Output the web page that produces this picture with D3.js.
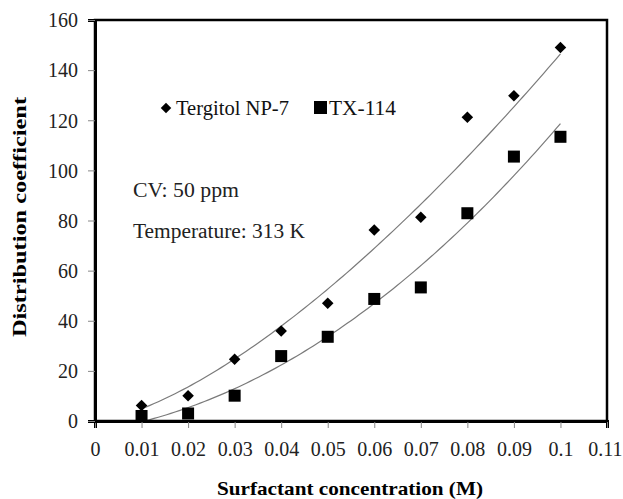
<!DOCTYPE html>
<html><head><meta charset="utf-8">
<script src="https://cdn.jsdelivr.net/npm/d3@7"></script>
<style>body{margin:0;background:#fff}svg{display:block}</style>
</head><body>
<script>
const xVals = [0.01,0.02,0.03,0.04,0.05,0.06,0.07,0.08,0.09,0.1];
const tergitol = [6.2,10.1,24.6,35.9,47,76.2,81.3,121.2,129.8,149];
const tx114 = [2,3,10.1,25.9,33.6,48.7,53.3,82.9,105.5,113.4];
const xTicks = [0,0.01,0.02,0.03,0.04,0.05,0.06,0.07,0.08,0.09,0.1,0.11];
const yTicks = [0,20,40,60,80,100,120,140,160];
const seriesNames = ["Tergitol NP-7","TX-114"];
const notes = ["CV: 50 ppm","Temperature: 313 K"];

const W=623,H=499;
const L=95,R=607,T=20,B=421;
const svg=d3.select("body").append("svg").attr("width",W).attr("height",H);
const x=d3.scaleLinear().domain([0,0.11]).range([L,R]);
const y=d3.scaleLinear().domain([0,160]).range([B,T]);
const font="Liberation Serif, Times New Roman, serif";

// quadratic least squares fit
function polyfit2(xs,ys){
  const n=xs.length;
  const S=k=>d3.sum(xs,v=>Math.pow(v,k));
  const Sy=k=>d3.sum(xs.map((v,i)=>Math.pow(v,k)*ys[i]));
  const A=[[n,S(1),S(2)],[S(1),S(2),S(3)],[S(2),S(3),S(4)]];
  const b=[Sy(0),Sy(1),Sy(2)];
  for(let i=0;i<3;i++){
    for(let j=i+1;j<3;j++){
      const f=A[j][i]/A[i][i];
      for(let k=i;k<3;k++)A[j][k]-=f*A[i][k];
      b[j]-=f*b[i];
    }
  }
  const c=[0,0,0];
  for(let i=2;i>=0;i--){
    let s=b[i];for(let k=i+1;k<3;k++)s-=A[i][k]*c[k];c[i]=s/A[i][i];
  }
  return v=>c[0]+c[1]*v+c[2]*v*v;
}
// power fit y = a x^b (log-log least squares)
function powerfit(xs,ys){
  const lx=xs.map(Math.log),ly=ys.map(Math.log);
  const mx=d3.mean(lx),my=d3.mean(ly);
  const bb=d3.sum(lx.map((v,i)=>(v-mx)*(ly[i]-my)))/d3.sum(lx.map(v=>(v-mx)*(v-mx)));
  const la=my-bb*mx;
  return v=>Math.exp(la)*Math.pow(v,bb);
}

svg.append("clipPath").attr("id","clip").append("rect")
  .attr("x",L).attr("y",T).attr("width",R-L).attr("height",B-T);

// trendlines
[[tergitol,powerfit],[tx114,polyfit2]].forEach(([ys,fit])=>{
  const f=fit(xVals,ys);
  const x0=d3.min(xVals),x1=d3.max(xVals);
  const pts=d3.range(0,101).map(i=>{const v=x0+i*(x1-x0)/100;return [v,f(v)];});
  svg.append("path").attr("clip-path","url(#clip)")
    .attr("d",d3.line().x(d=>x(d[0])).y(d=>y(d[1]))(pts))
    .attr("fill","none").attr("stroke","#7a7a7a").attr("stroke-width",1.2);
});

// frame
svg.append("rect").attr("x",L).attr("y",T).attr("width",R-L).attr("height",B-T)
  .attr("fill","none").attr("stroke","#000").attr("stroke-width",2.5);

// axes
const xAxis=svg.append("g").attr("transform",`translate(0,${B})`)
  .call(d3.axisBottom(x).tickValues(xTicks).tickSize(7).tickPadding(14).tickFormat(d=>String(+d.toFixed(2))));
const yAxis=svg.append("g").attr("transform",`translate(${L},0)`)
  .call(d3.axisLeft(y).tickValues(yTicks).tickSize(7).tickPadding(10));
[xAxis,yAxis].forEach(g=>{
  g.select(".domain").attr("stroke","#000").attr("stroke-width",3);
  g.selectAll(".tick line").attr("stroke","#888").attr("stroke-width",1);
  g.selectAll("text").attr("font-family",font).attr("font-size",20).attr("fill","#222");
});
xAxis.selectAll(".tick line").attr("y1",1);
xAxis.selectAll(".tick text").filter(d=>d===0.11).attr("text-anchor","end").attr("dx","15");
yAxis.selectAll(".tick text").attr("dy","0.34em");

// markers
const diamond=d3.symbol().type(d3.symbolDiamond2).size(85);
svg.append("g").selectAll("path").data(xVals).join("path")
  .attr("transform",(d,i)=>`translate(${x(d)},${y(tergitol[i])})`)
  .attr("d",diamond()).attr("fill","#000");
svg.append("g").selectAll("rect").data(xVals).join("rect")
  .attr("x",d=>x(d)-6).attr("y",(d,i)=>y(tx114[i])-6).attr("width",12).attr("height",12).attr("fill","#000");

// legend
svg.append("path").attr("transform","translate(166,108)").attr("d",d3.symbol().type(d3.symbolDiamond2).size(70)()).attr("fill","#000");
svg.append("text").attr("x",176).attr("y",115).text(seriesNames[0])
  .attr("font-family",font).attr("font-size",20).attr("fill","#111")
  .attr("textLength",113).attr("lengthAdjust","spacingAndGlyphs");
svg.append("rect").attr("x",314).attr("y",101).attr("width",13).attr("height",13).attr("fill","#000");
svg.append("text").attr("x",329).attr("y",115).text(seriesNames[1])
  .attr("font-family",font).attr("font-size",20).attr("fill","#111")
  .attr("textLength",67).attr("lengthAdjust","spacingAndGlyphs");

// notes
svg.append("text").attr("x",133).attr("y",197).text(notes[0]).attr("font-family",font).attr("font-size",20).attr("fill","#222")
  .attr("textLength",106).attr("lengthAdjust","spacingAndGlyphs");
svg.append("text").attr("x",133).attr("y",238).text(notes[1]).attr("font-family",font).attr("font-size",20).attr("fill","#222")
  .attr("textLength",172).attr("lengthAdjust","spacingAndGlyphs");

// titles
svg.append("text").attr("x",350).attr("y",495).attr("text-anchor","middle")
  .attr("font-family",font).attr("font-weight","bold").attr("font-size",19)
  .attr("textLength",266).attr("lengthAdjust","spacingAndGlyphs").text("Surfactant concentration (M)");
svg.append("text").attr("transform","translate(26,217) rotate(-90)").attr("text-anchor","middle")
  .attr("font-family",font).attr("font-weight","bold").attr("font-size",19)
  .attr("textLength",240).attr("lengthAdjust","spacingAndGlyphs").text("Distribution coefficient");
</script>
</body></html>
